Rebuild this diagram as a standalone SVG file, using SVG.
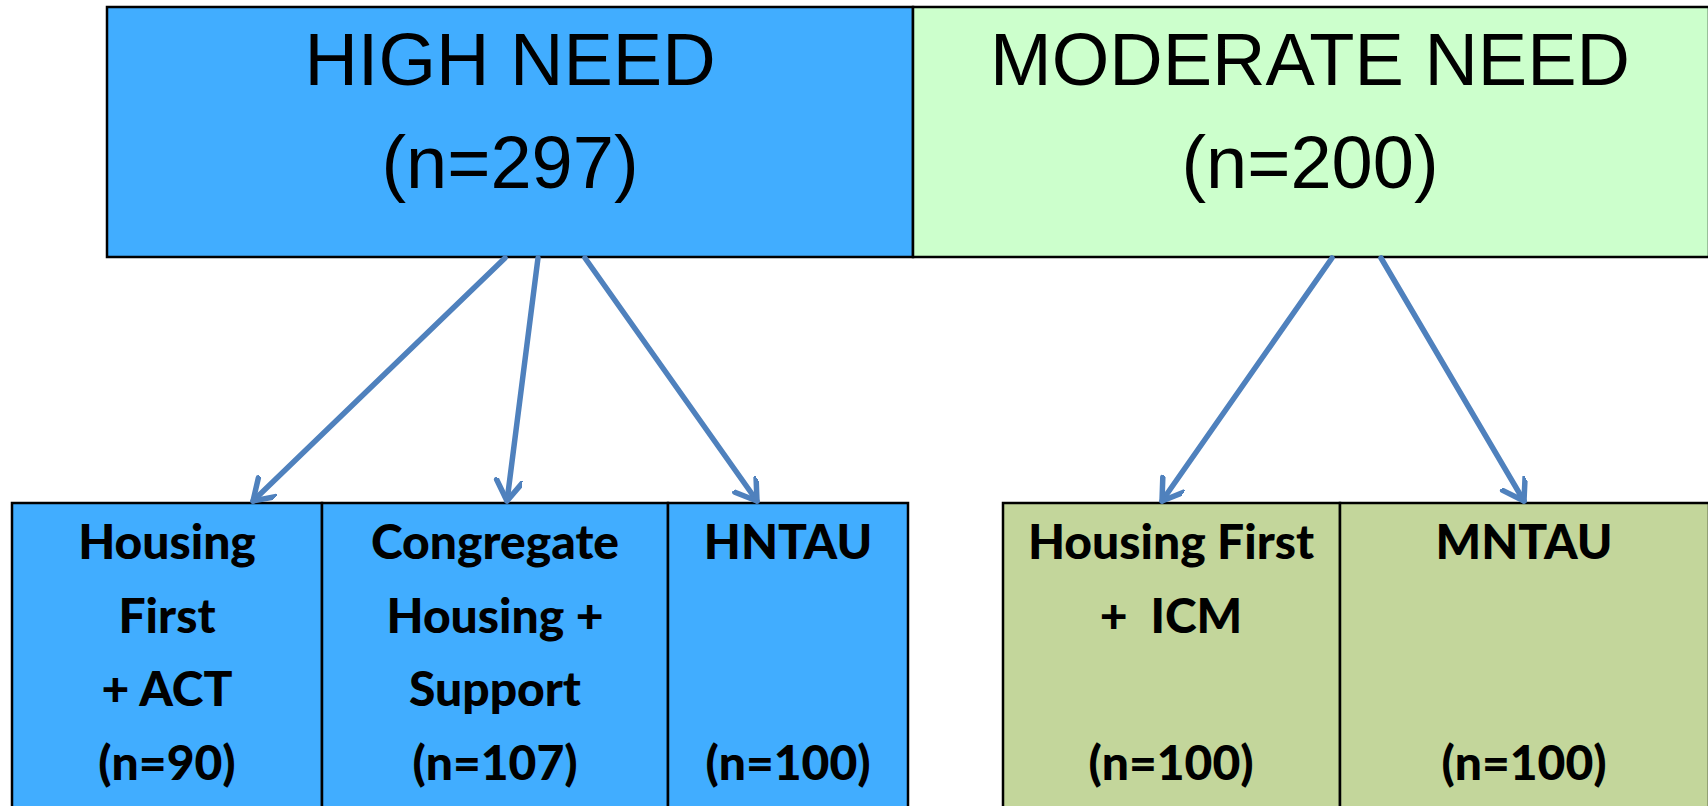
<svg xmlns="http://www.w3.org/2000/svg" width="1708" height="806" viewBox="0 0 1708 806">
<style>
.box{stroke:#000;stroke-width:2.5}
.blue{fill:#41adff}
.lgreen{fill:#ccffcc}
.olive{fill:#c3d69b}
.big{font-family:"Liberation Sans",Arial,sans-serif;font-size:74px;fill:#000;text-anchor:middle}
.sm{font-family:Lato,"Open Sans",sans-serif;font-weight:900;font-size:48px;fill:#000;text-anchor:middle}
.conn{stroke:#4f81bd;stroke-width:5.5;fill:none;stroke-linecap:round}
</style>
<defs>
<marker id="ah" markerUnits="userSpaceOnUse" markerWidth="40" markerHeight="40" refX="22" refY="13" orient="auto" viewBox="0 0 40 40">
<path d="M2,0 L22,13 L2,26" fill="none" stroke="#4f81bd" stroke-width="5.5" stroke-linecap="round" stroke-linejoin="round"/>
</marker>
</defs>
<rect width="1708" height="806" fill="#fff"/>
<g id="high-need">
<rect class="box blue" x="107" y="7" width="806" height="250"/>
<text class="big" x="510" y="85">HIGH NEED</text>
<text class="big" x="510" y="188">(n=297)</text>
</g>
<g id="moderate-need">
<rect class="box lgreen" x="913" y="7" width="796" height="250"/>
<text class="big" x="1310" y="85">MODERATE NEED</text>
<text class="big" x="1310" y="188">(n=200)</text>
</g>
<g id="hf-act">
<rect class="box blue" x="12" y="503" width="310" height="310"/>
<text class="sm" x="167" y="559">Housing</text>
<text class="sm" x="167" y="633">First</text>
<text class="sm" x="167" y="706">+ ACT</text>
<text class="sm" x="167" y="780">(n=90)</text>
</g>
<g id="congregate">
<rect class="box blue" x="322" y="503" width="346" height="310"/>
<text class="sm" x="495" y="559">Congregate</text>
<text class="sm" x="495" y="633">Housing +</text>
<text class="sm" x="495" y="706">Support</text>
<text class="sm" x="495" y="780">(n=107)</text>
</g>
<g id="hntau">
<rect class="box blue" x="668" y="503" width="240" height="310"/>
<text class="sm" x="788" y="559">HNTAU</text>
<text class="sm" x="788" y="780">(n=100)</text>
</g>
<g id="hf-icm">
<rect class="box olive" x="1003" y="503" width="337" height="310"/>
<text class="sm" x="1171" y="559">Housing First</text>
<text class="sm" x="1171" y="633" xml:space="preserve">+  ICM</text>
<text class="sm" x="1171" y="780">(n=100)</text>
</g>
<g id="mntau">
<rect class="box olive" x="1340" y="503" width="369" height="310"/>
<text class="sm" x="1524" y="559">MNTAU</text>
<text class="sm" x="1524" y="780">(n=100)</text>
</g>
<g id="connectors">
<line class="conn" x1="505" y1="258" x2="253" y2="501" marker-end="url(#ah)"/>
<line class="conn" x1="538" y1="258" x2="507" y2="501" marker-end="url(#ah)"/>
<line class="conn" x1="585" y1="258" x2="757" y2="501" marker-end="url(#ah)"/>
<line class="conn" x1="1332" y1="258" x2="1162" y2="501" marker-end="url(#ah)"/>
<line class="conn" x1="1381" y1="258" x2="1524" y2="501" marker-end="url(#ah)"/>
</g>
</svg>
